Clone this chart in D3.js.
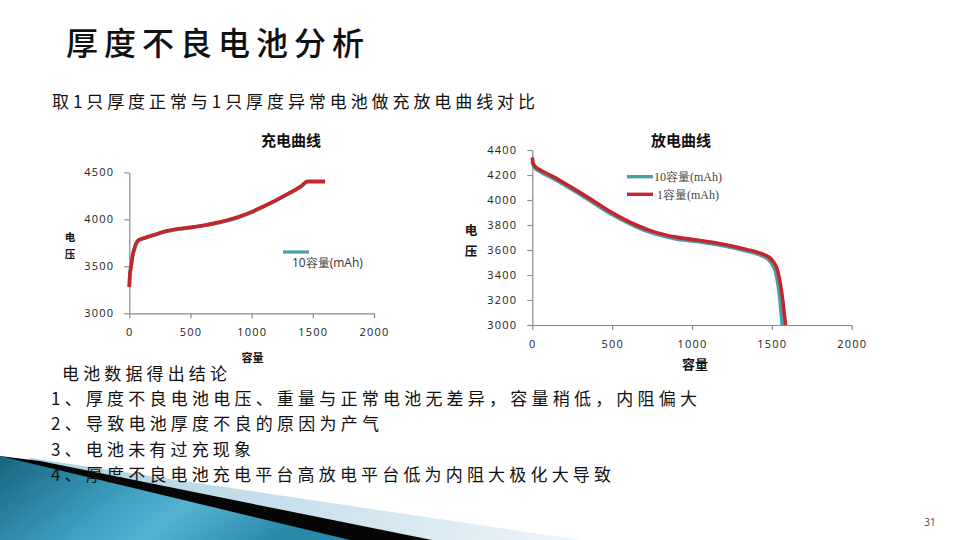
<!DOCTYPE html>
<html>
<head>
<meta charset="utf-8">
<script src="https://cdn.jsdelivr.net/npm/d3@7/dist/d3.min.js"></script>
<style>
  html, body { margin: 0; padding: 0; background: #fff; }
  svg { display: block; }
</style>
</head>
<body>
<svg id="chart" width="960" height="540"></svg>
<script>
// ---------- data ----------
const chargeCap   = [0, 5, 14, 25, 38, 55, 75, 130, 200, 300, 400, 500, 600, 700, 800, 900, 1000, 1100, 1200, 1300, 1400, 1460, 1600];
const chargeV1    = [3280, 3420, 3495, 3600, 3673, 3740, 3780, 3805, 3834, 3875, 3900, 3915, 3935, 3960, 3990, 4030, 4080, 4140, 4205, 4275, 4350, 4404, 4404];
const chargeV10   = [3278, 3415, 3490, 3595, 3668, 3736, 3776, 3801, 3830, 3871, 3896, 3911, 3931, 3956, 3986, 4026, 4076, 4136, 4201, 4271, 4346, 4400, 4400];

const dischargeCap1  = [0, 5, 20, 50, 130, 240, 340, 490, 650, 740, 820, 900, 1000, 1170, 1340, 1440, 1480, 1510, 1535, 1553, 1567, 1577, 1586];
const dischargeV1    = [4340, 4295, 4265, 4240, 4187, 4105, 4027, 3905, 3800, 3755, 3725, 3703, 3685, 3652, 3605, 3568, 3545, 3505, 3440, 3330, 3210, 3100, 3000];
const dischargeCap10 = [0, 5, 20, 50, 130, 240, 340, 490, 650, 740, 820, 900, 1000, 1170, 1340, 1440, 1475, 1500, 1522, 1538, 1550, 1558, 1565];
const dischargeV10   = [4315, 4280, 4252, 4226, 4172, 4090, 4012, 3890, 3786, 3741, 3711, 3689, 3672, 3640, 3592, 3553, 3528, 3490, 3430, 3330, 3210, 3100, 3000];

const xTicks        = [0, 500, 1000, 1500, 2000];
const chargeYTicks  = [3000, 3500, 4000, 4500];
const dischargeYTicks = [3000, 3200, 3400, 3600, 3800, 4000, 4200, 4400];

const seriesNames = ["10容量(mAh)", "1容量(mAh)"];
const pageTitle = "厚度不良电池分析";
const subTitle  = "取1只厚度正常与1只厚度异常电池做充放电曲线对比";
const chartTitles = ["充电曲线", "放电曲线"];
const conclusionHead = "电池数据得出结论";
const conclusions = [
  "1、厚度不良电池电压、重量与正常电池无差异，容量稍低，内阻偏大",
  "2、导致电池厚度不良的原因为产气",
  "3、电池未有过充现象",
  "4、厚度不良电池充电平台高放电平台低为内阻大极化大导致"
];

// ---------- styles ----------
const RED = "#c3262c";
const TEAL = "#4a9eaa";
const AXIS = "#8a8a8a";
const CJK = "'Noto Sans CJK SC', 'Noto Sans', sans-serif";
const SANS = "'Open Sans', 'Noto Sans', sans-serif";
const SERIF = "'Liberation Serif', 'DejaVu Serif', serif";

const svg = d3.select("#chart");
svg.append("rect").attr("width", 960).attr("height", 540).attr("fill", "#fff");

// ---------- bottom-left decoration ----------
const defs = svg.append("defs");
const gPale = defs.append("linearGradient").attr("id", "pale").attr("x1", "0").attr("x2", "1").attr("y1", "0").attr("y2", "0");
gPale.append("stop").attr("offset", "0%").attr("stop-color", "#a9cfe0");
gPale.append("stop").attr("offset", "60%").attr("stop-color", "#cfe4ee");
gPale.append("stop").attr("offset", "100%").attr("stop-color", "#eef6fa");
const gBlue = defs.append("linearGradient").attr("id", "blue").attr("x1", "0").attr("x2", "1").attr("y1", "0").attr("y2", "0.3");
gBlue.append("stop").attr("offset", "0%").attr("stop-color", "#17657f");
gBlue.append("stop").attr("offset", "45%").attr("stop-color", "#3e9fc0");
gBlue.append("stop").attr("offset", "65%").attr("stop-color", "#55b3d2");
gBlue.append("stop").attr("offset", "100%").attr("stop-color", "#2a88a8");

const deco = svg.append("g");
deco.append("polygon").attr("points", "30,458 580,540 0,540").attr("fill", "url(#pale)");
deco.append("polygon").attr("points", "40,461 432,540 0,540 0,456").attr("fill", "#050505");
deco.append("polygon").attr("points", "0,456 350,540 0,540").attr("fill", "url(#blue)");

// ---------- page texts ----------
svg.append("text").attr("x", 66).attr("y", 55)
  .attr("font-family", CJK).attr("font-size", 32).attr("font-weight", 500)
  .attr("fill", "#111").attr("textLength", 298).attr("lengthAdjust", "spacing")
  .text(pageTitle);

svg.append("text").attr("x", 52).attr("y", 107.5)
  .attr("font-family", CJK).attr("font-size", 17)
  .attr("fill", "#111").attr("textLength", 483).attr("lengthAdjust", "spacing")
  .text(subTitle);

svg.append("text").attr("x", 62).attr("y", 379.5)
  .attr("font-family", CJK).attr("font-size", 17)
  .attr("fill", "#111").attr("textLength", 165).attr("lengthAdjust", "spacing")
  .text(conclusionHead);

const lineLens = [646, 328, 200, 560];
const lineY = [404.5, 430, 455.5, 481];
conclusions.forEach((t, i) => {
  svg.append("text").attr("x", 51).attr("y", lineY[i])
    .attr("font-family", CJK).attr("font-size", 17)
    .attr("fill", "#111").attr("textLength", lineLens[i]).attr("lengthAdjust", "spacing")
    .text(t);
});

svg.append("text").attr("x", 930).attr("y", 526).attr("text-anchor", "middle")
  .attr("font-family", SANS).attr("font-size", 10).attr("fill", "#444").text("31");

// ---------- helpers ----------
function styleAxis(g, fs, ls) {
  g.select(".domain").attr("stroke", AXIS).attr("stroke-width", 1.2);
  g.selectAll(".tick line").attr("stroke", AXIS).attr("stroke-width", 1.2);
  g.selectAll(".tick text").attr("fill", "#222").attr("font-family", SANS)
    .attr("font-size", fs).style("letter-spacing", ls + "px");
}
function drawLine(g, x, y, caps, vals, color, w) {
  const pts = caps.map((c, i) => [c, vals[i]]);
  g.append("path").datum(pts)
    .attr("fill", "none").attr("stroke", color).attr("stroke-width", w)
    .attr("stroke-linejoin", "round").attr("stroke-linecap", "butt")
    .attr("d", d3.line().x(d => x(d[0])).y(d => y(d[1])).curve(d3.curveMonotoneX));
}
function boldLabel(text, x, y, fs) {
  svg.append("text").attr("x", x).attr("y", y).attr("text-anchor", "middle")
    .attr("font-family", CJK).attr("font-size", fs).attr("font-weight", 700)
    .attr("fill", "#111").text(text);
}

// ---------- charge chart ----------
const cx = d3.scaleLinear().domain([0, 2000]).range([129.3, 374]);
const cy = d3.scaleLinear().domain([3000, 4500]).range([313.3, 172.4]);
const cg = svg.append("g");
cg.append("g").attr("transform", `translate(0,${cy(3000)})`)
  .call(d3.axisBottom(cx).tickValues(xTicks).tickFormat(d3.format("d")).tickSize(5).tickSizeOuter(0).tickPadding(10))
  .call(g => styleAxis(g, 11, 1.2));
cg.append("g").attr("transform", `translate(${cx(0)},0)`)
  .call(d3.axisLeft(cy).tickValues(chargeYTicks).tickFormat(d3.format("d")).tickSize(5).tickSizeOuter(0).tickPadding(10))
  .call(g => styleAxis(g, 11, 1.2));
drawLine(cg, cx, cy, chargeCap, chargeV10, TEAL, 3.6);
drawLine(cg, cx, cy, chargeCap, chargeV1, RED, 3.6);

boldLabel(chartTitles[0], 291, 146, 15);
boldLabel("电", 70, 240.5, 10.5);
boldLabel("压", 70, 258, 10.5);
boldLabel("容量", 252.5, 362, 11);

// charge legend (only the first series shown)
cg.append("line").attr("x1", 283).attr("x2", 309).attr("y1", 252).attr("y2", 252)
  .attr("stroke", TEAL).attr("stroke-width", 3.2);
cg.append("text").attr("x", 292).attr("y", 266.8)
  .attr("font-family", SANS).attr("font-size", 12).attr("fill", "#333")
  .text(seriesNames[0]);

// ---------- discharge chart ----------
const dx = d3.scaleLinear().domain([0, 2000]).range([532.3, 851.7]);
const dy = d3.scaleLinear().domain([3000, 4400]).range([325, 150]);
const dg = svg.append("g");
dg.append("g").attr("transform", `translate(0,${dy(3000)})`)
  .call(d3.axisBottom(dx).tickValues(xTicks).tickFormat(d3.format("d")).tickSize(5).tickSizeOuter(0).tickPadding(10))
  .call(g => styleAxis(g, 11, 1.2));
dg.append("g").attr("transform", `translate(${dx(0)},0)`)
  .call(d3.axisLeft(dy).tickValues(dischargeYTicks).tickFormat(d3.format("d")).tickSize(5).tickSizeOuter(0).tickPadding(10))
  .call(g => styleAxis(g, 11, 1.2));
drawLine(dg, dx, dy, dischargeCap10, dischargeV10, TEAL, 3.6);
drawLine(dg, dx, dy, dischargeCap1, dischargeV1, RED, 3.6);

boldLabel(chartTitles[1], 681, 146, 15);
boldLabel("电", 471, 234.5, 12.5);
boldLabel("压", 471, 256, 12.5);
boldLabel("容量", 695, 369, 13);

const legY = [176.7, 194.3];
const legTX = [654, 657];
const legColors = [TEAL, RED];
seriesNames.forEach((n, i) => {
  dg.append("line").attr("x1", 627).attr("x2", 653).attr("y1", legY[i]).attr("y2", legY[i])
    .attr("stroke", legColors[i]).attr("stroke-width", 3.4);
  dg.append("text").attr("x", legTX[i]).attr("y", legY[i] + 4.2)
    .attr("font-family", SERIF).attr("font-size", 12).attr("fill", "#444")
    .text(n);
});
</script>
</body>
</html>
